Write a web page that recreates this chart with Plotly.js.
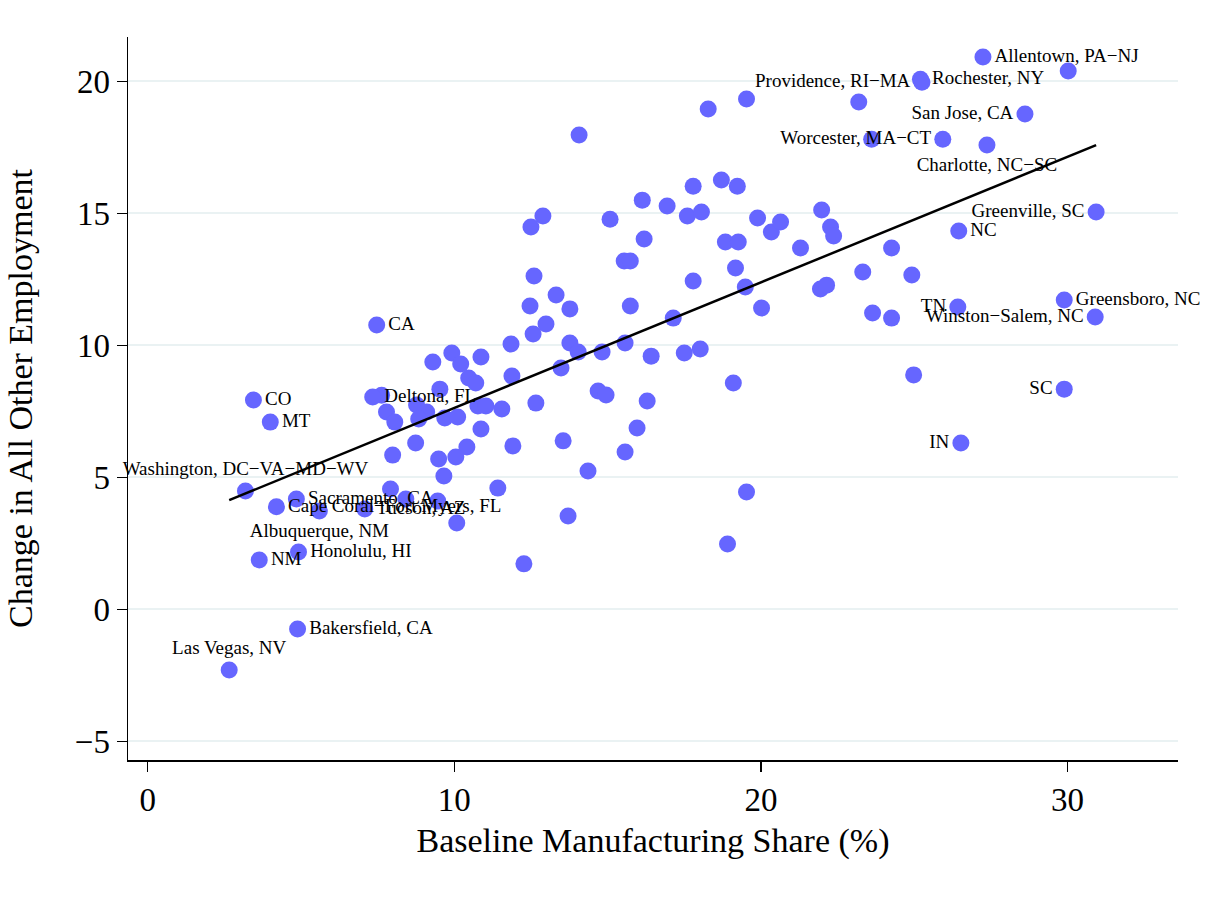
<!DOCTYPE html>
<html>
<head>
<meta charset="utf-8">
<script src="https://cdn.plot.ly/plotly-3.0.1.min.js"></script>
<style>html,body{margin:0;padding:0;background:#fff;}#chart{width:1207px;height:910px;}</style>
</head>
<body>
<div id="chart"></div>
<script>
// Labeled metro areas / states
const labelNames = ["Allentown, PA\u2212NJ","Rochester, NY","Providence, RI\u2212MA","San Jose, CA","Worcester, MA\u2212CT",
  "Charlotte, NC\u2212SC","Greenville, SC","NC","Greensboro, NC","TN","Winston\u2212Salem, NC","SC","IN","CA","CO","MT",
  "Deltona, FL","Washington, DC\u2212VA\u2212MD\u2212WV","Sacramento, CA","Cape Coral\u2212Fort Myers, FL","Tucson, AZ",
  "Albuquerque, NM","Honolulu, HI","NM","Bakersfield, CA","Las Vegas, NV"];
const labelX = [27.24,25.20,25.25,28.61,25.93,27.37,30.93,26.45,29.89,26.42,30.90,29.89,26.52,7.47,3.45,4.00,
  7.34,3.19,4.85,4.20,7.08,5.60,4.92,3.64,4.89,2.66];
const labelY = [20.92,20.08,19.97,18.76,17.81,17.59,15.05,14.33,11.72,11.45,11.07,8.34,6.30,10.77,7.93,7.09,
  8.04,4.48,4.18,3.88,3.80,3.72,2.17,1.87,-0.75,-2.30];

// Unlabeled observations
const otherX = [30.02,19.53,18.28,23.19,23.61,14.07,18.71,17.79,19.23,16.13,16.94,17.60,18.06,15.08,12.89,12.50,19.89,20.34,20.64,
  21.98,22.27,22.37,16.19,18.84,19.26,21.29,24.26,15.54,15.74,19.17,12.60,17.79,19.49,21.94,22.14,23.32,24.92,13.32,12.47,
  13.77,15.74,17.14,20.02,23.64,24.26,12.99,12.57,11.85,13.77,14.04,14.82,15.57,16.42,17.50,18.02,10.87,9.92,9.30,10.21,
  13.48,10.47,10.70,11.88,19.10,24.98,9.53,14.69,14.95,16.29,7.63,12.66,7.79,8.06,8.77,9.10,8.84,9.69,10.11,10.77,11.03,
  11.55,10.87,15.96,8.74,11.91,13.55,10.41,15.57,7.99,10.05,9.49,14.36,9.66,11.42,19.53,7.92,8.42,9.46,13.71,10.08,18.91,12.27];
const otherY = [20.39,19.33,18.95,19.22,17.81,17.97,16.26,16.03,16.03,15.50,15.28,14.90,15.05,14.78,14.90,14.48,14.82,14.29,14.67,
  15.13,14.48,14.14,14.03,13.91,13.91,13.69,13.69,13.19,13.19,12.93,12.63,12.44,12.21,12.13,12.28,12.78,12.66,11.91,11.49,
  11.38,11.49,11.03,11.41,11.22,11.03,10.81,10.43,10.05,10.09,9.75,9.75,10.09,9.59,9.71,9.86,9.56,9.71,9.37,9.29,
  9.14,8.76,8.57,8.84,8.57,8.88,8.34,8.27,8.12,7.89,8.11,7.81,7.47,7.09,7.74,7.47,7.21,7.25,7.28,7.70,7.70,
  7.59,6.83,6.87,6.30,6.19,6.38,6.15,5.96,5.84,5.77,5.69,5.24,5.05,4.59,4.44,4.56,4.18,4.10,3.53,3.27,2.47,1.72];

const xTicks = [0,10,20,30];
const yTicks = [-5,0,5,10,15,20];

// label placement (styling)
const leftLabels = new Set(["Providence, RI\u2212MA","San Jose, CA","Worcester, MA\u2212CT","Greenville, SC","TN",
  "Winston\u2212Salem, NC","SC","IN"]);
const topLabels = new Set(["Washington, DC\u2212VA\u2212MD\u2212WV","Las Vegas, NV"]);
const bottomLabels = new Set(["Charlotte, NC\u2212SC","Albuquerque, NM"]);
const positions = labelNames.map(n => leftLabels.has(n) ? "middle left" : topLabels.has(n) ? "top center" :
  bottomLabels.has(n) ? "bottom center" : "middle right");

// OLS fit over all observations
const allX = labelX.concat(otherX), allY = labelY.concat(otherY);
const n = allX.length;
const mx = allX.reduce((a,b)=>a+b,0)/n, my = allY.reduce((a,b)=>a+b,0)/n;
let sxy = 0, sxx = 0;
for (let i=0;i<n;i++){ sxy += (allX[i]-mx)*(allY[i]-my); sxx += (allX[i]-mx)**2; }
const slope = sxy/sxx, intercept = my - slope*mx;
const xmin = Math.min(...allX), xmax = Math.max(...allX);

const serif = "Liberation Serif, Times New Roman, serif";
const col = "rgb(102,102,255)";

const traces = [
  {x: otherX, y: otherY, type: "scatter", mode: "markers",
   marker: {color: col, size: 17}, hoverinfo: "x+y", showlegend: false, cliponaxis: false},
  {x: labelX, y: labelY, text: labelNames, type: "scatter", mode: "markers+text",
   textposition: positions, textfont: {family: serif, size: 19, color: "#000"},
   marker: {color: col, size: 17}, showlegend: false, cliponaxis: false},
  {x: [xmin, xmax], y: [intercept + slope*xmin, intercept + slope*xmax], type: "scatter", mode: "lines",
   line: {color: "#000", width: 2.5}, showlegend: false}
];

const layout = {
  width: 1207, height: 910,
  margin: {l: 128, r: 29, t: 37, b: 150},
  paper_bgcolor: "#fff", plot_bgcolor: "#fff",
  font: {family: serif, color: "#000"},
  xaxis: {range: [-0.64, 33.6], tickvals: xTicks, ticktext: xTicks.map(String),
    showgrid: false, zeroline: false, showline: true, linecolor: "#000", linewidth: 1.5,
    ticks: "outside", ticklen: 10, tickwidth: 1.2, tickcolor: "#000",
    tickfont: {family: serif, size: 33},
    title: {text: "Baseline Manufacturing Share (%)", font: {family: serif, size: 34}, standoff: 11}},
  yaxis: {range: [-5.71, 21.68], tickvals: yTicks, ticktext: yTicks.map(v => v < 0 ? "\u2212" + Math.abs(v) : String(v)),
    showgrid: true, gridcolor: "#eaf2f3", gridwidth: 2, zeroline: false,
    showline: true, linecolor: "#000", linewidth: 1.5,
    ticks: "outside", ticklen: 10, tickwidth: 1.2, tickcolor: "#000",
    tickfont: {family: serif, size: 33},
    title: {text: "Change in All Other Employment", font: {family: serif, size: 34}, standoff: 32}}
};

Plotly.newPlot("chart", traces, layout, {staticPlot: true});
</script>
</body>
</html>
